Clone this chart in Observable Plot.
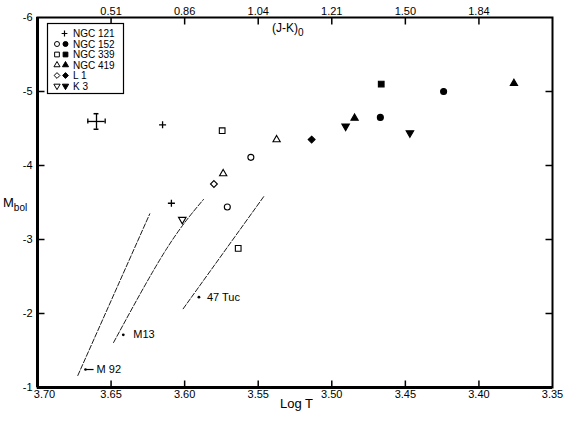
<!DOCTYPE html>
<html><head><meta charset="utf-8">
<script src="https://cdn.jsdelivr.net/npm/d3@7"></script>
<script src="https://cdn.jsdelivr.net/npm/@observablehq/plot@0.6"></script>
<style>
body{margin:0;background:#fff;}
#wrap{position:relative;width:570px;height:423px;font-family:"Liberation Sans",Arial,sans-serif;color:#000;}
.lbl{position:absolute;white-space:nowrap;line-height:1;}
#legend{position:absolute;left:0;top:0;pointer-events:none;}
</style></head><body><div id="wrap"></div>
<script>
// ---- data ----
const clusters = ["NGC 121", "NGC 152", "NGC 339", "NGC 419", "L 1", "K 3"];
const ptCluster = ["NGC 121","NGC 121","NGC 152","NGC 152","NGC 152","NGC 152","NGC 339","NGC 339","NGC 339","NGC 419","NGC 419","NGC 419","NGC 419","L 1","L 1","K 3","K 3","K 3"];
const ptFilled  = [true,true,false,false,true,true,false,false,true,false,false,true,true,false,true,false,true,true];
const ptLogT    = [3.615,3.609,3.555,3.571,3.467,3.424,3.5745,3.5636,3.4664,3.5375,3.5738,3.4845,3.3762,3.5801,3.5137,3.6016,3.4906,3.4469];
const ptMbol    = [-4.55,-3.49,-4.11,-3.44,-4.65,-5.00,-4.47,-2.88,-5.10,-4.35,-3.89,-4.64,-5.11,-3.75,-4.35,-3.27,-4.53,-4.44];

const errLogT = [3.6599], errMbol = [-4.595], errDLogT = [0.0059], errDMbol = [0.105];

const m92LogT = [3.6726, 3.6237], m92Mbol = [-1.162, -3.347];
const m13LogT = [3.6483, 3.613, 3.5872], m13Mbol = [-1.608, -2.851, -3.541];
const tucLogT = [3.601, 3.5457], tucMbol = [-2.064, -3.595];

const gcNames = ["M 92", "M13", "47 Tuc"];
const gcLabelLogT = [3.6619, 3.6417, 3.5903];
const gcLabelMbol = [-1.243, -1.712, -2.22];
const m92PointerLogT = [3.6674, 3.6619];

const xDomain = [3.70, 3.35];
const yDomain = [-1, -6];
const xTicks = [3.70, 3.65, 3.60, 3.55, 3.50, 3.45, 3.40, 3.35];
const xTickLabels = ["3.70","3.65","3.60","3.55","3.50","3.45","3.40","3.35"];
const jkTicks = [3.65, 3.60, 3.55, 3.50, 3.45, 3.40];
const jkTickLabels = ["0.51","0.86","1.04","1.21","1.50","1.84"];
const yTicks = [-6, -5, -4, -3, -2, -1];
const yTickLabels = ["-6","-5","-4","-3","-2","-1"];

// ---- layout ----
const W = 570, H = 423, mL = 37, mR = 18, mT = 17, mB = 36, tickPx = 7;
const dxTick = (xDomain[1] - xDomain[0]) * tickPx / (W - mL - mR);
const dyTick = (yDomain[1] - yDomain[0]) * tickPx / (H - mT - mB);

// ---- build ----
const sqrt3 = Math.sqrt(3);
const triangleDown = {draw(ctx, size) {
  const y = -Math.sqrt(size / (sqrt3 * 3));
  ctx.moveTo(0, -y * 2); ctx.lineTo(-sqrt3 * y, y); ctx.lineTo(sqrt3 * y, y); ctx.closePath();
}};
const symbolOf = {"NGC 121": "plus", "NGC 152": "circle", "NGC 339": "square", "NGC 419": "triangle", "L 1": "diamond2", "K 3": triangleDown};
const d3SymbolOf = {"NGC 121": d3.symbolPlus, "NGC 152": d3.symbolCircle, "NGC 339": d3.symbolSquare, "NGC 419": d3.symbolTriangle, "L 1": d3.symbolDiamond2, "K 3": triangleDown};
const rOf = {"NGC 121": 2.4, "NGC 152": 3, "NGC 339": 3.2, "NGC 419": 2.7, "L 1": 3.1, "K 3": 2.8};

const points = ptCluster.map((c, i) => ({c, filled: ptFilled[i], t: ptLogT[i], m: ptMbol[i]}));
const rows = (ts, ms) => ts.map((t, i) => ({t, m: ms[i]}));
const err = errLogT.map((t, i) => ({t, m: errMbol[i], dt: errDLogT[i], dm: errDMbol[i]}));
const gcLabels = gcNames.map((n, i) => ({n, t: gcLabelLogT[i], m: gcLabelMbol[i]}));
const xLab = new Map(xTicks.map((d, i) => [d, xTickLabels[i]]));
const jkLab = new Map(jkTicks.map((d, i) => [d, jkTickLabels[i]]));
const yLab = new Map(yTicks.map((d, i) => [d, yTickLabels[i]]));

const dotMarks = clusters.map(c => Plot.dot(points.filter(p => p.c === c), {
  x: "t", y: "m", symbol: symbolOf[c], r: rOf[c],
  fill: c === "NGC 121" ? "none" : (p => p.filled ? "black" : "white"),
  stroke: "black", strokeWidth: c === "NGC 121" ? 1.3 : 1.1
}));

const tickStyle = {stroke: "black", strokeWidth: 1.5};
const bottomTicks = xTicks.slice(1, -1).map(t => ({x1: t, x2: t, y1: yDomain[0], y2: yDomain[0] + dyTick}));
const topTicks = jkTicks.map(t => ({x1: t, x2: t, y1: yDomain[1], y2: yDomain[1] - dyTick}));
const leftTicks = yTicks.slice(1, -1).map(m => ({x1: xDomain[0], x2: xDomain[0] + dxTick, y1: m, y2: m}));
const rightTicks = yTicks.slice(1, -1).map(m => ({x1: xDomain[1], x2: xDomain[1] - dxTick, y1: m, y2: m}));
const allTicks = [...bottomTicks, ...topTicks, ...leftTicks, ...rightTicks];

const plot = Plot.plot({
  width: W, height: H,
  marginLeft: mL, marginRight: mR, marginTop: mT, marginBottom: mB,
  x: {domain: xDomain},
  y: {domain: yDomain},
  style: {fontFamily: "'Liberation Sans', Arial, sans-serif", fontSize: "11px", background: "white", color: "black", overflow: "visible"},
  marks: [
    Plot.axisX({anchor: "bottom", ticks: xTicks, tickFormat: d => xLab.get(d), tickSize: 0, tickPadding: 3, label: null}),
    Plot.axisX({anchor: "top", ticks: jkTicks, tickFormat: d => jkLab.get(d), tickSize: 0, tickPadding: 3, label: null}),
    Plot.axisY({anchor: "left", ticks: yTicks, tickFormat: d => yLab.get(d), tickSize: 0, tickPadding: 5, label: null}),
    // inward ticks
    Plot.link(allTicks, {x1: "x1", x2: "x2", y1: "y1", y2: "y2", ...tickStyle}),
    Plot.frame({stroke: "black", strokeWidth: 2}),
    Plot.ruleX([xDomain[0]], {stroke: "black", strokeWidth: 3}),
    Plot.ruleY([yDomain[0]], {stroke: "black", strokeWidth: 3}),
    Plot.line(rows(m92LogT, m92Mbol), {x: "t", y: "m", stroke: "black", strokeWidth: 0.9, strokeDasharray: "5,2"}),
    Plot.line(rows(m13LogT, m13Mbol), {x: "t", y: "m", stroke: "black", strokeWidth: 0.9, strokeDasharray: "5,2", curve: "natural"}),
    Plot.line(rows(tucLogT, tucMbol), {x: "t", y: "m", stroke: "black", strokeWidth: 0.9, strokeDasharray: "5,2"}),
    Plot.link([{t1: m92PointerLogT[0], t2: m92PointerLogT[1], m: gcLabelMbol[0]}], {x1: "t1", x2: "t2", y1: "m", y2: "m", stroke: "black", strokeWidth: 1.2}),
    Plot.dot([{t: m92PointerLogT[0], m: gcLabelMbol[0]}], {x: "t", y: "m", r: 1.3, fill: "black"}),
    Plot.dot(gcLabels.slice(1), {x: "t", y: "m", r: 1.4, fill: "black"}),
    Plot.text(gcLabels, {x: "t", y: "m", text: "n", textAnchor: "start", fontSize: 11}),
    Plot.ruleY(err, {y: "m", x1: d => d.t - d.dt, x2: d => d.t + d.dt, stroke: "black", strokeWidth: 1.3}),
    Plot.ruleX(err, {x: "t", y1: d => d.m - d.dm, y2: d => d.m + d.dm, stroke: "black", strokeWidth: 1.3}),
    Plot.ruleX(err, {x: d => d.t - d.dt, y1: d => d.m - dyTick * 0.35, y2: d => d.m + dyTick * 0.35, stroke: "black", strokeWidth: 1.3}),
    Plot.ruleX(err, {x: d => d.t + d.dt, y1: d => d.m - dyTick * 0.35, y2: d => d.m + dyTick * 0.35, stroke: "black", strokeWidth: 1.3}),
    Plot.ruleY(err, {y: d => d.m - d.dm, x1: d => d.t - dxTick * 0.35, x2: d => d.t + dxTick * 0.35, stroke: "black", strokeWidth: 1.5}),
    Plot.ruleY(err, {y: d => d.m + d.dm, x1: d => d.t - dxTick * 0.35, x2: d => d.t + dxTick * 0.35, stroke: "black", strokeWidth: 1.5}),
    ...dotMarks
  ]
});
const wrap = document.getElementById("wrap");
wrap.appendChild(plot);
// label offsets (text starts right of the pointer/dot)
const labelDx = {"M 92": 3, "M13": 10, "47 Tuc": 8};
d3.select(plot).selectAll("text").each(function() {
  const t = this.textContent;
  if (labelDx[t] !== undefined) d3.select(this).attr("dx", labelDx[t]);
  if (t === "3.70") d3.select(this).attr("dx", 7);
});

// axis titles as HTML
function addLabel(html, left, top, size) {
  const d = document.createElement("div");
  d.className = "lbl"; d.innerHTML = html;
  d.style.left = left + "px"; d.style.top = top + "px"; d.style.fontSize = size + "px";
  wrap.appendChild(d);
}
addLabel("(J-K)<sub style='font-size:10px;vertical-align:-4px'>0</sub>", 272, 22, 12);
addLabel("Log T", 280, 397, 13);
addLabel("M<sub style='font-size:10px;vertical-align:-4px'>bol</sub>", 3, 196, 13);

// legend
const lg = d3.select(wrap).append("svg").attr("id", "legend").attr("width", W).attr("height", H);
lg.append("rect").attr("x", 47.5).attr("y", 23.5).attr("width", 76).attr("height", 70)
  .attr("fill", "white").attr("stroke", "black").attr("stroke-width", 1.2);
const rowY = [33.5, 44, 54.5, 65, 75.5, 86];
clusters.forEach((c, i) => {
  const y = rowY[i];
  const size = Math.PI * rOf[c] * rOf[c] * 0.7;
  const path = d3.symbol().type(d3SymbolOf[c]).size(size)();
  if (c === "NGC 121") {
    lg.append("path").attr("d", path).attr("transform", `translate(64.5,${y})`).attr("fill", "none").attr("stroke", "black").attr("stroke-width", 1.2);
  } else {
    lg.append("path").attr("d", path).attr("transform", `translate(57,${y})`).attr("fill", "white").attr("stroke", "black").attr("stroke-width", 1);
    lg.append("path").attr("d", path).attr("transform", `translate(65.5,${y})`).attr("fill", "black").attr("stroke", "black").attr("stroke-width", 1);
  }
  lg.append("text").attr("x", 73).attr("y", y).attr("dy", "0.35em").attr("font-size", 10)
    .attr("font-family", "'Liberation Sans', Arial, sans-serif").text(c);
});
</script>
</body></html>
